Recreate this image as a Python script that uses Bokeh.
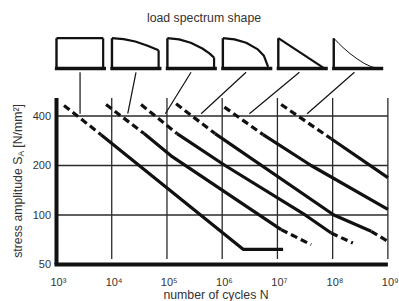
import math
from bokeh.plotting import figure
from bokeh.models import Range1d
from bokeh.core.properties import value
from bokeh.embed import file_html
from bokeh.resources import INLINE

# ---------------- data ----------------
x_ticks = [1e3, 1e4, 1e5, 1e6, 1e7, 1e8, 1e9]
x_tick_labels = ["10³", "10⁴", "10⁵", "10⁶", "10⁷", "10⁸", "10⁹"]
y_ticks = [50, 100, 200, 400]
y_tick_labels = ["50", "100", "200", "400"]
grid_x = [1e4, 1e5, 1e6, 1e7, 1e8, 1e9]
grid_y = [100, 200, 400]

title_text = "load spectrum shape"
x_label = "number of cycles N"
y_label_main = "stress amplitude S"
y_label_sub = "A"
y_label_unit = "[N/mm²]"

# S-N curves (cycles N, stress amplitude S); dashed flag per segment
curve1_N = [1367, 6397, 2.39e6, 1.268e7]
curve1_S = [464, 308, 61.8, 61.8]
curve1_dash = [True, False, False]
curve2_N = [7890, 3.846e4, 1.186e5, 1.167e7, 4.08e7]
curve2_S = [470, 312.6, 229, 81.5, 66]
curve2_dash = [True, False, False, True]
curve3_N = [3.396e4, 1.523e5, 1.128e6, 3.18e7, 9.4e7, 2.32e8]
curve3_S = [470, 312.6, 200, 100, 77.7, 67.5]
curve3_dash = [True, False, False, False, True]
curve4_N = [1.462e5, 7.43e5, 1.052e8, 4.98e8, 1e9]
curve4_S = [475, 312.6, 100, 79.6, 69.1]
curve4_dash = [True, False, False, True]
curve5_N = [1.096e6, 5.51e6, 4.08e7, 1e9]
curve5_S = [453, 308, 200, 108]
curve5_dash = [True, False, False]
curve6_N = [1.167e7, 9.4e7, 1e9]
curve6_S = [470, 291, 168.7]
curve6_dash = [True, False]

# load spectrum shapes (normalised: u = along box, v = height)
spec1_u = [0, 1]
spec1_v = [1, 1]
spec2_u = [0, 0.25, 0.5, 0.75, 1]
spec2_v = [1, 0.97, 0.89, 0.76, 0.6]
spec3_u = [0, 0.25, 0.5, 0.75, 0.9, 1]
spec3_v = [1, 0.96, 0.85, 0.66, 0.5, 0.36]
spec4_u = [0, 0.25, 0.5, 0.75, 0.88, 0.97]
spec4_v = [1, 0.96, 0.85, 0.63, 0.42, 0.05]
spec5_u = [0, 0.97]
spec5_v = [1, 0.02]
spec6_u = [0, 0.1, 0.2, 0.35, 0.5, 0.65, 0.8, 0.9]
spec6_v = [1, 0.84, 0.69, 0.49, 0.32, 0.17, 0.06, 0.02]

# connectors from spectrum boxes to curves
conn_top_N = [2670, 2.75e4, 2.73e5, 2.71e6, 2.50e7, 2.48e8]
conn_bot_N = [2670, 1.95e4, 9.35e4, 4.15e5, 3.11e6, 3.45e7]
conn_top_S = 738
conn_bot_S = 413

# ---------------- layout helpers (page pixel -> data position) ----------------
def Nx(px):
    return 10 ** (3 + (px - 56.0) / 55.23)

def Sy(py):
    return 400 * 10 ** ((115.5 - py) / 164.4)

FONT = "Liberation Sans"
INK = "#111111"
GRID = "#2a2a2a"
TXT = "#333333"

p = figure(width=399, height=301, x_axis_type="log", y_axis_type="log",
           x_axis_location=None, y_axis_location=None,
           x_range=Range1d(Nx(0), Nx(399)), y_range=Range1d(Sy(301), Sy(0)),
           min_border=0, output_backend="svg", toolbar_location=None)
p.outline_line_color = None
p.xgrid.visible = False
p.ygrid.visible = False

# grid
p.segment(x0=grid_x, y0=[Sy(258.5)] * len(grid_x), x1=grid_x, y1=[Sy(97.5)] * len(grid_x),
          line_color=GRID, line_width=1.3)
p.segment(x0=[x_ticks[0]] * len(grid_y), y0=grid_y, x1=[x_ticks[-1]] * len(grid_y), y1=grid_y,
          line_color=GRID, line_width=1.3)
# axis lines
p.segment(x0=[x_ticks[0]], y0=[y_ticks[0]], x1=[x_ticks[0]], y1=[Sy(97.5)],
          line_color=INK, line_width=4)
p.segment(x0=[Nx(54)], y0=[y_ticks[0]], x1=[x_ticks[-1]], y1=[y_ticks[0]],
          line_color=INK, line_width=4)

# tick labels
p.text(x=x_ticks, y=[Sy(281.5)] * len(x_ticks), text=x_tick_labels, text_align="left",
       text_baseline="alphabetic", x_offset=-6.1, text_font=value(FONT),
       text_font_size="11px", text_color=TXT)
p.text(x=[Nx(50.5)] * len(y_ticks), y=y_ticks, text=y_tick_labels, text_align="right",
       text_baseline="middle", text_font=value(FONT), text_font_size="11px", text_color=TXT)

# curves
curves = [(curve1_N, curve1_S, curve1_dash), (curve2_N, curve2_S, curve2_dash),
          (curve3_N, curve3_S, curve3_dash), (curve4_N, curve4_S, curve4_dash),
          (curve5_N, curve5_S, curve5_dash), (curve6_N, curve6_S, curve6_dash)]
for Ns, Ss, dflags in curves:
    run_x, run_y, run_d = [Ns[0]], [Ss[0]], dflags[0]
    for i, d in enumerate(dflags):
        if d != run_d:
            p.line(run_x, run_y, line_color=INK, line_width=3.2, line_join="round",
                   line_dash="7 4" if run_d else "solid")
            run_x, run_y, run_d = [Ns[i]], [Ss[i]], d
        run_x.append(Ns[i + 1]); run_y.append(Ss[i + 1])
    p.line(run_x, run_y, line_color=INK, line_width=3.2, line_join="round",
           line_dash="7 4" if run_d else "solid")

# connectors
p.segment(x0=conn_top_N, y0=[conn_top_S] * 6, x1=conn_bot_N, y1=[conn_bot_S] * 6,
          line_color=INK, line_width=1.2)

# spectrum boxes
specs = [(spec1_u, spec1_v), (spec2_u, spec2_v), (spec3_u, spec3_v),
         (spec4_u, spec4_v), (spec5_u, spec5_v), (spec6_u, spec6_v)]
s_bot, s_top = math.log10(Sy(68)), math.log10(Sy(37.7))
box_w = 0.845
for i, (us, vs) in enumerate(specs):
    left = 3 + 1.004 * i
    fx = lambda u: 10 ** (left + u * box_w)
    fy = lambda v: 10 ** (s_bot + v * (s_top - s_bot))
    p.line([fx(0), fx(0)], [fy(0), fy(1)], line_color=INK, line_width=2.4)
    p.line([fx(u) for u in us], [fy(v) for v in vs], line_color=INK,
           line_width=1.0 if i == 5 else 2.2)
    if vs[-1] > 0.05:
        p.line([fx(us[-1]), fx(us[-1])], [fy(0), fy(vs[-1])], line_color=INK, line_width=2.2)
    p.line([fx(-0.035), fx(1.06)], [fy(0), fy(0)], line_color=INK, line_width=3.6)

# titles / axis labels
p.text(x=[Nx(203.5)], y=[Sy(17)], text=[title_text], text_align="center",
       text_baseline="alphabetic", text_font=value(FONT), text_font_size="12.3px",
       text_color=TXT)
p.text(x=[Nx(215.5)], y=[Sy(294.5)], text=[x_label], text_align="center",
       text_baseline="alphabetic", text_font=value(FONT), text_font_size="12.3px",
       text_color=TXT)
p.text(x=[Nx(17.5)], y=[Sy(257.3)], text=[y_label_main], angle=math.pi / 2,
       text_align="left", text_baseline="alphabetic", text_font=value(FONT),
       text_font_size="12.3px", text_color=TXT)
p.text(x=[Nx(20.3)], y=[Sy(156.1)], text=[y_label_sub], angle=math.pi / 2,
       text_align="left", text_baseline="alphabetic", text_font=value(FONT),
       text_font_size="8.6px", text_color=TXT)
p.text(x=[Nx(17.5)], y=[Sy(147.2)], text=[y_label_unit], angle=math.pi / 2,
       text_align="left", text_baseline="alphabetic", text_font=value(FONT),
       text_font_size="12.3px", text_color=TXT)

open("out.html", "w").write(file_html(p, INLINE))
